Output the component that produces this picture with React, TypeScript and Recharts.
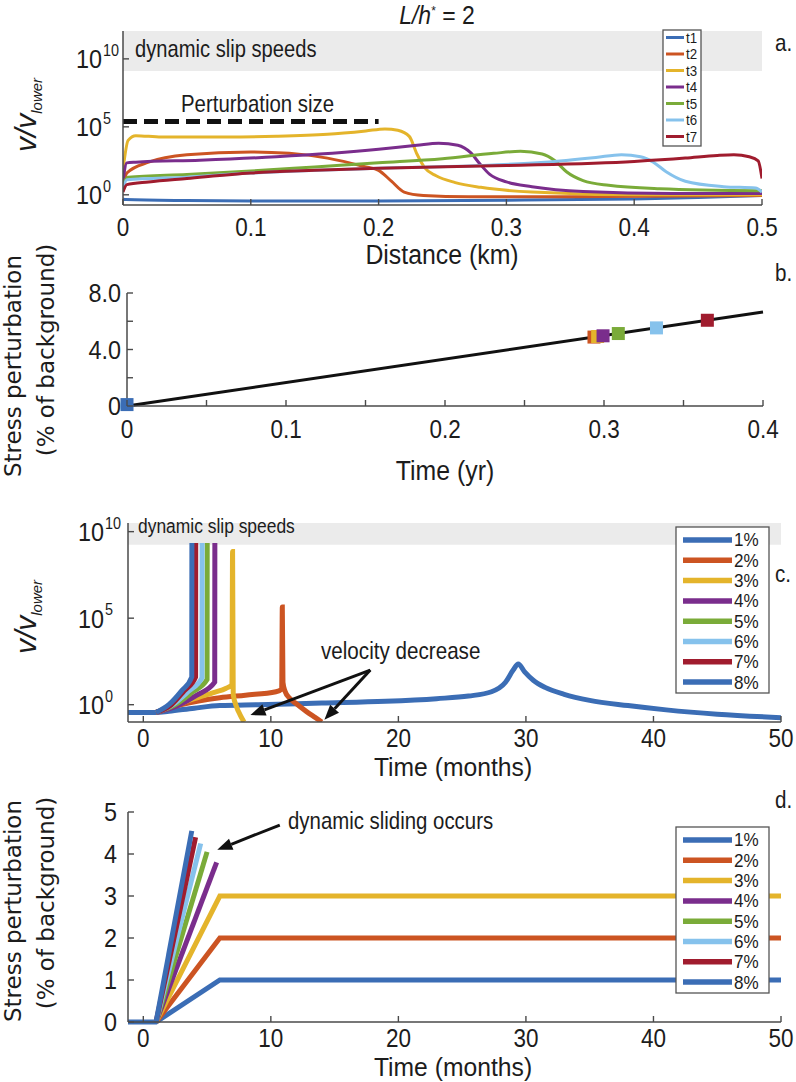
import React from 'react';
import {
  LineChart,
  ComposedChart,
  Line,
  Scatter,
  XAxis,
  YAxis,
  ReferenceArea,
  ReferenceLine,
} from 'recharts';

const SANS = "'Liberation Sans', Arial, sans-serif";
const WIDE = "'DejaVu Sans', Verdana, sans-serif";
const AXIS = '#4a4a4a';
const INK = '#1c1c1c';

// MATLAB default line colours, as they look in the figure
const COLORS = ['#3b6db5', '#cc5422', '#e4b42b', '#7a2d8c', '#7aab39', '#86c2ec', '#a01c2e'];

// ---- panel a: slip speed profiles (log10 of v/v_lower) along the fault ----
const snapNames = ['t1', 't2', 't3', 't4', 't5', 't6', 't7'];
const t1Dist = [0, 0.002, 0.05, 0.1, 0.2, 0.3, 0.4, 0.45, 0.5];
const t1LogV = [-0.3, -0.35, -0.42, -0.45, -0.45, -0.4, -0.3, -0.2, -0.05];
const t2Dist = [0, 0.003, 0.02, 0.05, 0.1, 0.13, 0.16, 0.19, 0.2, 0.21, 0.22, 0.235, 0.27, 0.35, 0.5];
const t2LogV = [0.5, 1.6, 2.4, 2.95, 3.15, 3.05, 2.7, 2.05, 1.8, 1.0, 0.2, -0.05, -0.15, -0.15, -0.05];
const t3Dist = [0, 0.004, 0.01, 0.03, 0.08, 0.12, 0.16, 0.19, 0.205, 0.215, 0.224, 0.23, 0.236, 0.245, 0.26, 0.28, 0.32, 0.4, 0.5];
const t3LogV = [1.8, 4.0, 4.35, 4.25, 4.25, 4.3, 4.45, 4.7, 4.85, 4.75, 4.3, 3.0, 2.0, 1.4, 0.9, 0.55, 0.2, 0.0, 0.0];
const t4Dist = [0, 0.003, 0.01, 0.06, 0.12, 0.2, 0.23, 0.247, 0.262, 0.272, 0.279, 0.287, 0.3, 0.32, 0.36, 0.43, 0.5];
const t4LogV = [1.0, 2.35, 2.4, 2.55, 2.8, 3.35, 3.65, 3.8, 3.65, 3.1, 2.3, 1.5, 0.95, 0.6, 0.25, 0.1, 0.1];
const t5Dist = [0, 0.004, 0.05, 0.1, 0.15, 0.2, 0.25, 0.29, 0.311, 0.328, 0.338, 0.347, 0.36, 0.38, 0.42, 0.5];
const t5LogV = [0.8, 1.3, 1.5, 1.75, 2.05, 2.35, 2.65, 3.05, 3.2, 3.0, 2.5, 1.7, 1.05, 0.7, 0.45, 0.3];
const t6Dist = [0, 0.003, 0.05, 0.1, 0.2, 0.28, 0.33, 0.37, 0.39, 0.405, 0.415, 0.425, 0.44, 0.47, 0.495, 0.5];
const t6LogV = [0.4, 1.1, 1.3, 1.6, 1.95, 2.15, 2.4, 2.75, 2.95, 2.8, 2.4, 1.7, 1.0, 0.6, 0.5, 0.2];
const t7Dist = [0, 0.003, 0.02, 0.05, 0.1, 0.15, 0.2, 0.3, 0.4, 0.44, 0.465, 0.478, 0.49, 0.497, 0.5];
const t7LogV = [0.2, 0.75, 0.95, 1.2, 1.6, 1.8, 1.95, 2.15, 2.45, 2.7, 2.9, 2.95, 2.8, 2.5, 1.2];
const snapDist = [t1Dist, t2Dist, t3Dist, t4Dist, t5Dist, t6Dist, t7Dist];
const snapLogV = [t1LogV, t2LogV, t3LogV, t4LogV, t5LogV, t6LogV, t7LogV];
const pertDist = [0, 0.2];
const pertLogV = [5.4, 5.4];
const distTicks = [0, 0.1, 0.2, 0.3, 0.4, 0.5];
const distLabels = ['0', '0.1', '0.2', '0.3', '0.4', '0.5'];
const expTicks = [0, 5, 10];

// ---- panel b: stress perturbation vs time, with the snapshot times ----
const rampYears = [0, 0.4];
const rampStress = [0, 6.65];
const snapYears = [0, 0.2937, 0.296, 0.2994, 0.309, 0.333, 0.365];
const snapStress = [0.1, 4.88, 4.92, 4.97, 5.13, 5.53, 6.07];
const yearTicks = [0, 0.05, 0.1, 0.15, 0.2, 0.25, 0.3, 0.35, 0.4];
const yearLabels = ['0', '', '0.1', '', '0.2', '', '0.3', '', '0.4'];
const stressTicksB = [0, 2, 4, 6, 8];
const stressLabelsB = ['0', '', '4.0', '', '8.0'];

// ---- panel c: slip speed histories (log10 of v/v_lower) per perturbation size ----
const pctNames = ['1%', '2%', '3%', '4%', '5%', '6%', '7%', '8%'];
const pctColors = [...COLORS, COLORS[0]];
const c1Months = [-1.2, 1.0, 2, 4, 6, 9, 14, 19, 23, 25.5, 27.3, 28.4, 29.0, 29.4, 29.9, 30.6, 31.5, 33, 35, 38, 41, 45, 50];
const c1LogV = [-0.45, -0.45, -0.38, -0.2, -0.05, 0.0, 0.1, 0.2, 0.35, 0.5, 0.75, 1.3, 2.0, 2.35, 1.9, 1.4, 1.0, 0.6, 0.25, -0.05, -0.3, -0.55, -0.75];
const c2Months = [1.0, 3, 6, 8, 10.4, 10.85, 10.9, 10.95, 11.1, 11.5, 12, 12.8, 13.5, 14];
const c2LogV = [-0.45, 0.0, 0.4, 0.55, 0.75, 0.9, 5.65, 1.3, 0.8, 0.35, 0.05, -0.4, -0.75, -1.0];
const c3Months = [1.0, 2.5, 4, 5.5, 6.5, 6.95, 7.0, 7.05, 7.3, 7.6, 7.9];
const c3LogV = [-0.45, -0.05, 0.35, 0.7, 0.95, 1.15, 8.85, 0.6, -0.1, -0.6, -1.0];
const c4Months = [1.0, 2.7, 4.2, 5.6, 5.61];
const c4LogV = [-0.45, -0.05, 0.55, 1.3, 9.35];
const c5Months = [1.0, 2.5, 3.8, 5.0, 5.01];
const c5LogV = [-0.45, 0.0, 0.7, 1.45, 9.35];
const c6Months = [1.0, 2.3, 3.5, 4.6, 4.61];
const c6LogV = [-0.45, 0.0, 0.75, 1.55, 9.35];
const c7Months = [1.0, 2.2, 3.2, 4.1, 4.11];
const c7LogV = [-0.45, 0.0, 0.8, 1.6, 9.35];
const c8Months = [1.0, 2.0, 3.0, 3.8, 3.81];
const c8LogV = [-0.45, 0.0, 0.8, 1.6, 9.35];
const histMonths = [c1Months, c2Months, c3Months, c4Months, c5Months, c6Months, c7Months, c8Months];
const histLogV = [c1LogV, c2LogV, c3LogV, c4LogV, c5LogV, c6LogV, c7LogV, c8LogV];
const monthTicks = [0, 10, 20, 30, 40, 50];

// ---- panel d: applied stress perturbation per perturbation size ----
const d1Months = [-1.2, 1.0, 6, 50];
const d1Stress = [0, 0, 1, 1];
const d2Months = [1.0, 6, 50];
const d2Stress = [0, 2, 2];
const d3Months = [1.0, 6, 50];
const d3Stress = [0, 3, 3];
const d4Months = [1.0, 5.75];
const d4Stress = [0, 3.8];
const d5Months = [1.0, 5.0];
const d5Stress = [0, 4.05];
const d6Months = [1.0, 4.5];
const d6Stress = [0, 4.25];
const d7Months = [1.0, 4.1];
const d7Stress = [0, 4.4];
const d8Months = [1.0, 3.8];
const d8Stress = [0, 4.55];
const rampMonths = [d1Months, d2Months, d3Months, d4Months, d5Months, d6Months, d7Months, d8Months];
const rampPct = [d1Stress, d2Stress, d3Stress, d4Stress, d5Stress, d6Stress, d7Stress, d8Stress];
const stressTicksD = [0, 1, 2, 3, 4, 5];

const zip = (xs: number[], ys: number[]) => xs.map((x, i) => ({ x, y: ys[i] }));

// condensed sans text (the figure uses a narrow face), squeezed about its anchor
function CText(props: {
  x: number;
  y: number;
  size: number;
  sx?: number;
  anchor?: 'start' | 'middle' | 'end';
  children: React.ReactNode;
}) {
  const { x, y, size, sx = 0.86, anchor = 'start', children } = props;
  return (
    <text
      transform={`translate(${x} ${y}) scale(${sx} 1)`}
      textAnchor={anchor}
      fontFamily={SANS}
      fontSize={size}
      fill={INK}
    >
      {children}
    </text>
  );
}

// inward tick marks, MATLAB style
const xTick = (ticks: number[], labels: string[], size: number, base: number) => (p: any) => {
  const i = ticks.indexOf(p.payload.value);
  const label = i >= 0 ? labels[i] : '';
  return (
    <g>
      <line x1={p.x} x2={p.x} y1={p.y} y2={p.y - 6} stroke={AXIS} strokeWidth={1.4} />
      {label && (
        <CText x={p.x} y={p.y + base} size={size} sx={0.9} anchor="middle">
          {label}
        </CText>
      )}
    </g>
  );
};

const yTick = (ticks: number[], labels: string[], size: number, gap: number) => (p: any) => {
  const i = ticks.indexOf(p.payload.value);
  const label = i >= 0 ? labels[i] : '';
  return (
    <g>
      <line x1={p.x} x2={p.x + 6} y1={p.y} y2={p.y} stroke={AXIS} strokeWidth={1.4} />
      {label && (
        <CText x={p.x - gap} y={p.y + size * 0.36} size={size} sx={0.9} anchor="end">
          {label}
        </CText>
      )}
    </g>
  );
};

const powTick = (size: number, sup: number, gap: number) => (p: any) => (
  <g>
    <line x1={p.x} x2={p.x + 6} y1={p.y} y2={p.y} stroke={AXIS} strokeWidth={1.4} />
    <CText x={p.x - gap} y={p.y + size * 0.36} size={size} sx={0.9} anchor="end">
      10
    </CText>
    <CText x={p.x - gap + 1} y={p.y - size * 0.12} size={sup} sx={0.9}>
      {p.payload.value}
    </CText>
  </g>
);

const arrowShape = (p: any) => {
  const { x1, y1, x2, y2 } = p;
  const a = Math.atan2(y2 - y1, x2 - x1);
  const len = 15;
  const half = 6;
  const bx = x2 - len * Math.cos(a);
  const by = y2 - len * Math.sin(a);
  const pts = [
    [x2, y2],
    [bx - half * Math.sin(a), by + half * Math.cos(a)],
    [bx + half * Math.sin(a), by - half * Math.cos(a)],
  ]
    .map((q) => q.join(','))
    .join(' ');
  return (
    <g>
      <line x1={x1} y1={y1} x2={bx} y2={by} stroke="#111" strokeWidth={3} />
      <polygon points={pts} fill="#111" />
    </g>
  );
};

const axisLine = { stroke: AXIS, strokeWidth: 1.5 };

function PanelA() {
  return (
    <LineChart width={796} height={260} margin={{ top: 31, right: 34, left: 63, bottom: 25 }}>
      <ReferenceArea x1={0} x2={0.5} y1={9.1} y2={12.05} fill="#ebebeb" fillOpacity={1} stroke="none" />
      <XAxis
        type="number"
        dataKey="x"
        domain={[0, 0.5]}
        ticks={distTicks}
        interval={0}
        tickSize={0}
        tickMargin={0}
        height={30}
        axisLine={axisLine}
        tickLine={false}
        tick={xTick(distTicks, distLabels, 25, 31)}
        allowDataOverflow
      />
      <YAxis
        type="number"
        dataKey="y"
        domain={[-0.75, 12.05]}
        ticks={expTicks}
        interval={0}
        tickSize={0}
        tickMargin={0}
        width={60}
        axisLine={axisLine}
        tickLine={false}
        tick={powTick(26, 16, 21)}
        allowDataOverflow
      />
      {snapNames.map((n, i) => (
        <Line
          key={n}
          name={n}
          data={zip(snapDist[i], snapLogV[i])}
          dataKey="y"
          type="monotone"
          stroke={COLORS[i]}
          strokeWidth={3}
          dot={false}
          isAnimationActive={false}
        />
      ))}
      <Line
        data={zip(pertDist, pertLogV)}
        dataKey="y"
        type="linear"
        stroke="#111"
        strokeWidth={5}
        strokeDasharray="14 7"
        dot={false}
        isAnimationActive={false}
      />
    </LineChart>
  );
}

function PanelB() {
  return (
    <ComposedChart width={796} height={240} margin={{ top: 33, right: 33, left: 67, bottom: 64 }}>
      <XAxis
        type="number"
        dataKey="x"
        domain={[0, 0.4]}
        ticks={yearTicks}
        interval={0}
        tickSize={0}
        tickMargin={0}
        height={30}
        axisLine={axisLine}
        tickLine={false}
        tick={xTick(yearTicks, yearLabels, 25, 32)}
      />
      <YAxis
        type="number"
        dataKey="y"
        domain={[0, 8]}
        ticks={stressTicksB}
        interval={0}
        tickSize={0}
        tickMargin={0}
        width={60}
        axisLine={axisLine}
        tickLine={false}
        tick={yTick(stressTicksB, stressLabelsB, 26, 6)}
      />
      <Line
        data={zip(rampYears, rampStress)}
        dataKey="y"
        type="linear"
        stroke="#111"
        strokeWidth={3}
        dot={false}
        isAnimationActive={false}
      />
      {snapNames.map((n, i) => (
        <Scatter
          key={n}
          name={n}
          data={[{ x: snapYears[i], y: snapStress[i] }]}
          dataKey="y"
          fill={COLORS[i]}
          isAnimationActive={false}
          shape={(p: any) => <rect x={p.cx - 6.5} y={p.cy - 6.5} width={13} height={13} fill={COLORS[i]} />}
        />
      ))}
    </ComposedChart>
  );
}

function PanelC() {
  return (
    <LineChart width={796} height={290} margin={{ top: 23, right: 15, left: 68, bottom: 38 }}>
      <ReferenceArea x1={-1.2} x2={50} y1={9.25} y2={10.5} fill="#ebebeb" fillOpacity={1} stroke="none" />
      <XAxis
        type="number"
        dataKey="x"
        domain={[-1.2, 50]}
        ticks={monthTicks}
        interval={0}
        tickSize={0}
        tickMargin={0}
        height={30}
        axisLine={axisLine}
        tickLine={false}
        tick={xTick(monthTicks, monthTicks.map(String), 25, 25)}
        allowDataOverflow
      />
      <YAxis
        type="number"
        dataKey="y"
        domain={[-1, 10.5]}
        ticks={expTicks}
        interval={0}
        tickSize={0}
        tickMargin={0}
        width={60}
        axisLine={axisLine}
        tickLine={false}
        tick={powTick(26, 16, 24)}
        allowDataOverflow
      />
      {pctNames.map((n, i) => (
        <Line
          key={n}
          name={n}
          data={zip(histMonths[i], histLogV[i])}
          dataKey="y"
          type="monotone"
          stroke={pctColors[i]}
          strokeWidth={5}
          dot={false}
          isAnimationActive={false}
        />
      ))}
      <ReferenceLine segment={[{ x: 17.8, y: 2.0 }, { x: 8.4, y: -0.6 }]} ifOverflow="visible" shape={arrowShape} />
      <ReferenceLine segment={[{ x: 17.8, y: 2.0 }, { x: 14.2, y: -0.87 }]} ifOverflow="visible" shape={arrowShape} />
    </LineChart>
  );
}

function PanelD() {
  return (
    <LineChart width={796} height={292} margin={{ top: 22, right: 15, left: 68, bottom: 30 }}>
      <XAxis
        type="number"
        dataKey="x"
        domain={[-1.2, 50]}
        ticks={monthTicks}
        interval={0}
        tickSize={0}
        tickMargin={0}
        height={30}
        axisLine={axisLine}
        tickLine={false}
        tick={xTick(monthTicks, monthTicks.map(String), 25, 25)}
      />
      <YAxis
        type="number"
        dataKey="y"
        domain={[0, 5]}
        ticks={stressTicksD}
        interval={0}
        tickSize={0}
        tickMargin={0}
        width={60}
        axisLine={axisLine}
        tickLine={false}
        tick={yTick(stressTicksD, stressTicksD.map(String), 26, 11)}
      />
      {pctNames.map((n, i) => (
        <Line
          key={n}
          name={n}
          data={zip(rampMonths[i], rampPct[i])}
          dataKey="y"
          type="linear"
          stroke={pctColors[i]}
          strokeWidth={5}
          dot={false}
          isAnimationActive={false}
        />
      ))}
      <ReferenceLine segment={[{ x: 10.7, y: 4.69 }, { x: 5.8, y: 4.1 }]} ifOverflow="visible" shape={arrowShape} />
    </LineChart>
  );
}

function LegendBox(props: {
  x: number;
  y: number;
  w: number;
  h: number;
  names: string[];
  colors: string[];
  first: number;
  step: number;
  lx1: number;
  lx2: number;
  lw: number;
  size: number;
}) {
  const { x, y, w, h, names, colors, first, step, lx1, lx2, lw, size } = props;
  return (
    <g>
      <rect x={x} y={y} width={w} height={h} fill="#fff" stroke="#555" strokeWidth={1.3} />
      {names.map((n, i) => {
        const cy = first + i * step;
        return (
          <g key={n}>
            <line x1={lx1} x2={lx2} y1={cy} y2={cy} stroke={colors[i]} strokeWidth={lw} />
            <CText x={lx2 + 2} y={cy + size * 0.36} size={size} sx={0.95}>
              {n}
            </CText>
          </g>
        );
      })}
    </g>
  );
}

function Overlay() {
  return (
    <svg width={796} height={1082} style={{ position: 'absolute', left: 0, top: 0, pointerEvents: 'none' }}>
      {/* title */}
      <text transform="translate(437 24) scale(0.92 1)" textAnchor="middle" fontFamily={SANS} fontSize={25} fill={INK}>
        <tspan fontStyle="italic">L/h</tspan>
        <tspan dy={-9} fontSize={13}>*</tspan>
        <tspan dy={9}> = 2</tspan>
      </text>

      {/* panel letters */}
      <CText x={775} y={51} size={24}>a.</CText>
      <CText x={775} y={281} size={24}>b.</CText>
      <CText x={775} y={582} size={24}>c.</CText>
      <CText x={775} y={808} size={24}>d.</CText>

      {/* axis titles */}
      <CText x={442} y={264} size={27} sx={0.92} anchor="middle">Distance (km)</CText>
      <CText x={445} y={480} size={27} sx={0.92} anchor="middle">Time (yr)</CText>
      <CText x={453} y={776} size={26} sx={0.95} anchor="middle">Time (months)</CText>
      <CText x={453} y={1076} size={26} sx={0.95} anchor="middle">Time (months)</CText>

      <text transform="translate(36,115) rotate(-90)" textAnchor="middle" fontFamily={SANS} fontStyle="italic" fontSize={30} fill={INK}>
        v/v<tspan dy={6} fontSize={15}>lower</tspan>
      </text>
      <text transform="translate(36,617) rotate(-90)" textAnchor="middle" fontFamily={SANS} fontStyle="italic" fontSize={30} fill={INK}>
        v/v<tspan dy={6} fontSize={15}>lower</tspan>
      </text>

      <text transform="translate(21,366) rotate(-90)" textAnchor="middle" fontFamily={WIDE} fontSize={23} fill={INK}>Stress perturbation</text>
      <text transform="translate(54,350) rotate(-90)" textAnchor="middle" fontFamily={WIDE} fontSize={23} fill={INK}>(% of background)</text>
      <text transform="translate(21,911) rotate(-90)" textAnchor="middle" fontFamily={WIDE} fontSize={23} fill={INK}>Stress perturbation</text>
      <text transform="translate(54,903) rotate(-90)" textAnchor="middle" fontFamily={WIDE} fontSize={23} fill={INK}>(% of background)</text>

      {/* annotations */}
      <CText x={135} y={57} size={24} sx={0.84}>dynamic slip speeds</CText>
      <CText x={181} y={112} size={24} sx={0.85}>Perturbation size</CText>
      <CText x={138} y={533} size={21} sx={0.83}>dynamic slip speeds</CText>
      <CText x={321} y={659} size={24} sx={0.86}>velocity decrease</CText>
      <CText x={288} y={829} size={24} sx={0.85}>dynamic sliding occurs</CText>

      {/* legends */}
      <LegendBox x={663} y={30} w={38} h={116} names={snapNames} colors={COLORS} first={37.5} step={16.5} lx1={666} lx2={684} lw={3} size={14} />
      <LegendBox x={676} y={527} w={93} h={166} names={pctNames} colors={pctColors} first={540} step={20.3} lx1={683} lx2={732} lw={5.5} size={18} />
      <LegendBox x={676} y={827} w={93} h={166} names={pctNames} colors={pctColors} first={840} step={20.3} lx1={683} lx2={732} lw={5.5} size={18} />
    </svg>
  );
}

export default function App() {
  return (
    <div style={{ position: 'absolute', left: 0, top: 0, width: 796, height: 1082, background: '#fff' }}>
      <div style={{ position: 'absolute', left: 0, top: 0 }}>
        <PanelA />
      </div>
      <div style={{ position: 'absolute', left: 0, top: 260 }}>
        <PanelB />
      </div>
      <div style={{ position: 'absolute', left: 0, top: 500 }}>
        <PanelC />
      </div>
      <div style={{ position: 'absolute', left: 0, top: 790 }}>
        <PanelD />
      </div>
      <Overlay />
    </div>
  );
}
